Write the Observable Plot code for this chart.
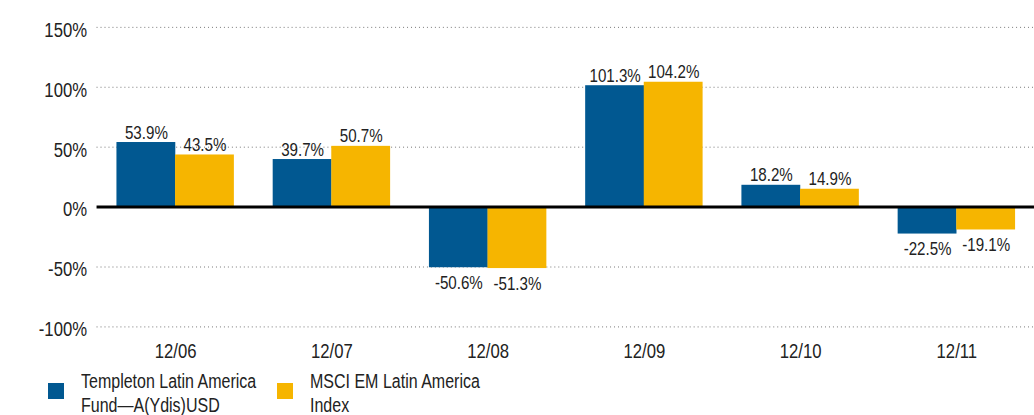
<!DOCTYPE html>
<html>
<head>
<meta charset="utf-8">
<script src="https://cdn.jsdelivr.net/npm/d3@7"></script>
<script src="https://cdn.jsdelivr.net/npm/@observablehq/plot@0.6"></script>
<style>
  html, body { margin: 0; padding: 0; background: #fff; overflow: hidden; width: 1034px; height: 415px; }
  .legend { position: absolute; top: 369px; left: 0; font-family: "Liberation Sans", Arial, sans-serif; font-size: 20px; line-height: 24px; color: #222; }
  .item { position: absolute; top: 0; white-space: nowrap; }
  .sw { position: absolute; width: 16px; height: 16px; top: 14px; }
  .lbl { position: absolute; top: 0; transform: scaleX(0.8); transform-origin: 0 0; }
</style>
</head>
<body>
<div id="chart"></div>
<div class="legend" id="legend"></div>
<script>
const periods = ["12/06", "12/07", "12/08", "12/09", "12/10", "12/11"];
const seriesNames = ["Templeton Latin America Fund—A(Ydis)USD", "MSCI EM Latin America Index"];
const fundValues = [53.9, 39.7, -50.6, 101.3, 18.2, -22.5];
const indexValues = [43.5, 50.7, -51.3, 104.2, 14.9, -19.1];
const yTicks = [-100, -50, 0, 50, 100, 150];
const colors = ["#015891", "#f6b500"];

const fundData = periods.map((p, i) => ({period: p, series: seriesNames[0], value: fundValues[i]}));
const indexData = periods.map((p, i) => ({period: p, series: seriesNames[1], value: indexValues[i]}));
const fmt = v => v.toFixed(1) + "%";

const W = 1039, ML = 97, MR = 0;
const pInner = 0.25, pOuter = 0.125;
const step = (W - ML - MR) / (periods.length - pInner + 2 * pOuter);
const half = step * (1 - pInner) / 2;

function labels(arr, side) {
  const dx = side === "left" ? -half / 2 : half / 2;
  return [
    Plot.text(arr.filter(d => d.value >= 0), {x: "period", y: "value", text: d => fmt(d.value), lineAnchor: "bottom", dy: -4, dx, fontSize: 19, fill: "#222"}),
    Plot.text(arr.filter(d => d.value < 0), {x: "period", y: "value", text: d => fmt(d.value), lineAnchor: "top", dy: 8, dx, fontSize: 19, fill: "#222"})
  ];
}

const chart = Plot.plot({
  width: W,
  height: 365,
  marginLeft: ML,
  marginRight: MR,
  marginTop: 27,
  marginBottom: 37,
  style: {fontFamily: '"Liberation Sans", Arial, sans-serif', fontSize: "20px", color: "#222", background: "#fff"},
  x: {domain: periods, paddingInner: pInner, paddingOuter: pOuter, axis: null},
  y: {domain: [-100, 150], axis: null},
  color: {domain: seriesNames, range: colors},
  marks: [
    Plot.ruleY(yTicks.filter(d => d !== 0), {stroke: "#777", strokeDasharray: "1,3", strokeWidth: 1}),
    Plot.axisY({ticks: yTicks, tickFormat: d => d + "%", label: null, tickSize: 0, tickPadding: 10, dy: 3, fontSize: 20}),
    Plot.axisX({label: null, tickSize: 0, tickPadding: 17, fontSize: 20}),
    Plot.barY(fundData, {x: "period", y: "value", fill: "series", insetRight: half}),
    Plot.barY(indexData, {x: "period", y: "value", fill: "series", insetLeft: half}),
    Plot.ruleY([0], {stroke: "#000", strokeWidth: 3}),
    ...labels(fundData, "left"),
    ...labels(indexData, "right")
  ]
});
document.getElementById("chart").appendChild(chart);

// narrow the glyphs horizontally around each text's anchor point (condensed typeface look)
function condense(nodes, s) {
  nodes.forEach(t => {
    const b = t.getBBox();
    const anchor = getComputedStyle(t).textAnchor;
    const ax = anchor === "middle" ? b.x + b.width / 2 : anchor === "end" ? b.x + b.width : b.x;
    const tr = t.getAttribute("transform") || "";
    t.setAttribute("transform", `${tr} translate(${ax},0) scale(${s},1) translate(${-ax},0)`);
  });
}
const allText = Array.from(chart.querySelectorAll("text"));
condense(allText.filter(t => parseFloat(getComputedStyle(t).fontSize) < 19.5), 0.8);
condense(allText.filter(t => parseFloat(getComputedStyle(t).fontSize) >= 19.5), 0.84);

const legend = document.getElementById("legend");
const legendLines = [["Templeton Latin America", "Fund—A(Ydis)USD"], ["MSCI EM Latin America", "Index"]];
const legendX = [48, 277];
legendLines.forEach((lines, i) => {
  const item = document.createElement("div");
  item.className = "item";
  item.style.left = legendX[i] + "px";
  const sw = document.createElement("div");
  sw.className = "sw";
  sw.style.background = colors[i];
  const lbl = document.createElement("div");
  lbl.className = "lbl";
  lbl.style.left = "33px";
  lbl.innerHTML = lines.join("<br>");
  item.appendChild(sw);
  item.appendChild(lbl);
  legend.appendChild(item);
});
</script>
</body>
</html>
